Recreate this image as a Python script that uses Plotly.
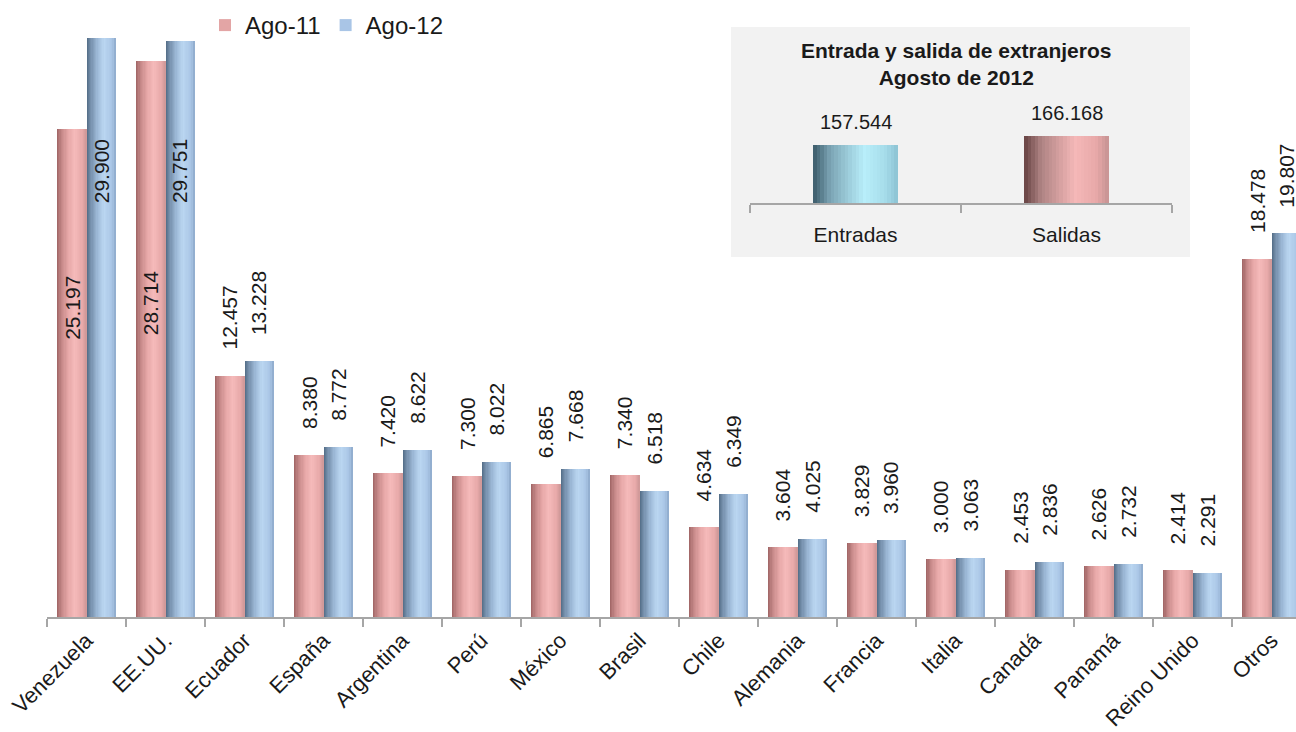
import plotly.graph_objects as go

# ---- data ----
paises = ["Venezuela", "EE.UU.", "Ecuador", "España", "Argentina", "Perú", "México",
          "Brasil", "Chile", "Alemania", "Francia", "Italia", "Canadá", "Panamá",
          "Reino Unido", "Otros"]
ago_11 = [25197, 28714, 12457, 8380, 7420, 7300, 6865, 7340, 4634, 3604, 3829, 3000,
          2453, 2626, 2414, 18478]
ago_12 = [29900, 29751, 13228, 8772, 8622, 8022, 7668, 6518, 6349, 4025, 3960, 3063,
          2836, 2732, 2291, 19807]
series_names = ["Ago-11", "Ago-12"]

flujo = ["Entradas", "Salidas"]
flujo_total = [157544, 166168]

W, H = 1296, 732
ML, MB = 47, 115
PH = H - MB          # plot area runs from the top edge down to the axis line
FONT = "Liberation Sans, Arial, sans-serif"
INK = "#1a1a1a"


def fmt(v):
    return f"{v:,}".replace(",", ".")


def py(pix):
    # pixel row -> paper y
    return (PH - pix) / PH


def hex2rgb(h):
    h = h.lstrip("#")
    return [int(h[i:i + 2], 16) for i in (0, 2, 4)]


def ramp(stops, t):
    # piecewise linear colour between stops [(pos, hex), ...]
    for (p0, c0), (p1, c1) in zip(stops, stops[1:]):
        if p0 <= t <= p1:
            f = (t - p0) / (p1 - p0) if p1 > p0 else 0
            a, b = hex2rgb(c0), hex2rgb(c1)
            return "rgb(%d,%d,%d)" % tuple(round(a[k] + (b[k] - a[k]) * f) for k in range(3))
    return stops[-1][1]


PINK = [(0, "#9E6363"), (0.15, "#C48787"), (0.38, "#E7A8A8"), (0.6, "#F5BABA"),
        (0.85, "#E8AAAA"), (1, "#CF9797")]
BLUE = [(0, "#526C86"), (0.15, "#7690AC"), (0.38, "#A0BCDA"), (0.6, "#BAD6F1"),
        (0.85, "#AAC6E6"), (1, "#8FABCC")]
TEAL = [(0, "#3B5A69"), (0.2, "#7BA4B4"), (0.6, "#B8EEFA"), (0.85, "#A6DCEA"), (1, "#8CC3D3")]
ROSE = [(0, "#664242"), (0.2, "#AE8383"), (0.6, "#F5B8B8"), (0.85, "#E8A9A9"), (1, "#C69393")]
LEGEND_COL = ["#E3A5A5", "#A9C5E6"]

NS = 24
fig = go.Figure()


def gradient_bars(x, y, base, width, stops, xaxis, yaxis):
    # a bar drawn as overlapping vertical strips to get the cylinder shading
    for j in range(NS):
        t = j / NS
        fig.add_trace(go.Bar(
            x=x, y=y, xaxis=xaxis, yaxis=yaxis,
            width=width * (1 - t), offset=base + width * t,
            marker=dict(color=ramp(stops, t + 0.5 / NS), line=dict(width=0)),
            showlegend=False, hoverinfo="skip",
        ))


BW = 0.373
# legend swatches (no visible bars of their own)
for name, col in zip(series_names, LEGEND_COL):
    fig.add_trace(go.Bar(x=paises, y=[0] * len(paises), name=name, width=0,
                         marker=dict(color=col, line=dict(width=0)), hoverinfo="skip"))
gradient_bars(paises, ago_11, -BW, BW, PINK, "x", "y")
gradient_bars(paises, ago_12, 0, BW, BLUE, "x", "y")

# inset bars
gradient_bars([flujo[0]], [flujo_total[0]], -0.2, 0.4, TEAL, "x2", "y2")
gradient_bars([flujo[1]], [flujo_total[1]], -0.2, 0.4, ROSE, "x2", "y2")

annotations = []
# value labels, main chart
inside_shift = {(0, 0): 145, (1, 0): 99, (0, 1): 207, (1, 1): 96}
for s, vals in enumerate((ago_11, ago_12)):
    xs = (-1 if s == 0 else 1) * BW / 2 * 79
    for i, v in enumerate(vals):
        lab = dict(x=paises[i], y=v, xref="x", yref="y", text=fmt(v), textangle=-90,
                   showarrow=False, xshift=xs, font=dict(family=FONT, size=21, color=INK))
        if (s, i) in inside_shift:
            lab.update(yanchor="top", yshift=-inside_shift[(s, i)])
        else:
            lab.update(yanchor="bottom", yshift=24)
        annotations.append(lab)
# inset value labels
for k, v in enumerate(flujo_total):
    annotations.append(dict(x=flujo[k], y=v, xref="x2", yref="y2", text=fmt(v),
                            showarrow=False, yanchor="bottom", yshift=10,
                            font=dict(family=FONT, size=20, color=INK)))
# inset title
annotations.append(dict(x=956 / W, y=py(64), xref="paper", yref="paper",
                        text="<b>Entrada y salida de extranjeros<br>Agosto de 2012</b>",
                        showarrow=False, align="center", xanchor="center", yanchor="middle",
                        font=dict(family=FONT, size=21, color=INK)))

fig.update_layout(
    width=W, height=H,
    margin=dict(l=0, r=0, t=0, b=MB, pad=0, autoexpand=False),
    paper_bgcolor="white", plot_bgcolor="rgba(0,0,0,0)",
    barmode="overlay", bargap=0,
    showlegend=True,
    legend=dict(orientation="h", x=205 / W, xanchor="left", y=py(3), yanchor="top",
                font=dict(family=FONT, size=24, color=INK),
                bgcolor="rgba(0,0,0,0)", itemwidth=30, tracegroupgap=0),
    xaxis=dict(domain=[ML / W, 1], range=[-0.5, 15.31], showgrid=False, automargin=False,
               showline=True, linecolor="#a6a6a6", linewidth=2,
               ticks="outside", tickson="boundaries", ticklen=8, tickcolor="#a6a6a6", tickwidth=2,
               tickangle=-45, tickfont=dict(family=FONT, size=22, color=INK),
               fixedrange=True),
    yaxis=dict(domain=[0, 1], range=[0, PH / (579 / 29900)], visible=False, fixedrange=True),
    xaxis2=dict(domain=[750 / W, 1172 / W], anchor="y2", showgrid=False, automargin=False,
                showline=True, linecolor="#a6a6a6", linewidth=2,
                ticks="outside", tickson="boundaries", ticklen=8, tickcolor="#a6a6a6", tickwidth=2,
                ticklabelstandoff=12,
                tickfont=dict(family=FONT, size=21, color=INK),
                fixedrange=True),
    yaxis2=dict(domain=[py(203), py(109)], range=[102000, 192000],
                anchor="x2", visible=False, fixedrange=True),
    shapes=[dict(type="rect", xref="paper", yref="paper", layer="below",
                 x0=731 / W, x1=1190 / W, y0=py(257), y1=py(27),
                 fillcolor="#f2f2f2", line=dict(width=0))],
    annotations=annotations,
)

# the page's default body margin would push the figure 8px right and down
fig.write_html("out.html", config={"displayModeBar": False},
               post_script="document.body.style.margin='0';")
